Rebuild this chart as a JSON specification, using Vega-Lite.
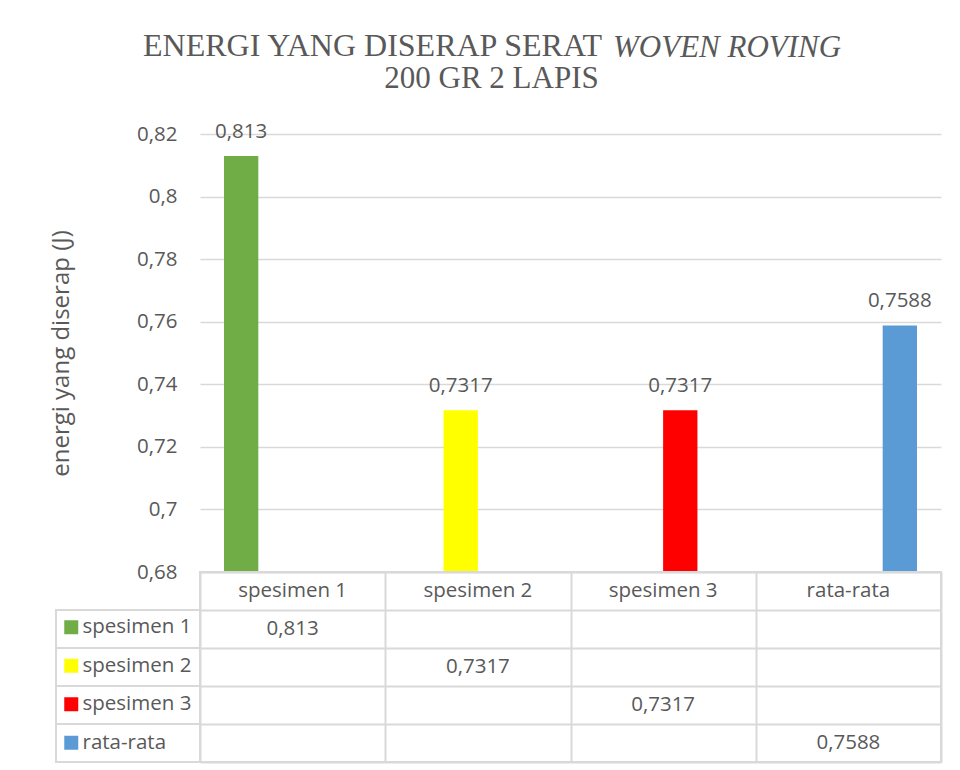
{
  "$schema": "https://vega.github.io/schema/vega-lite/v6.json",
  "background": "white",
  "padding": {"left": 49, "top": 30, "right": 5, "bottom": 5},
  "config": {
    "locale": {"number": {"decimal": ",", "thousands": ".", "grouping": [3], "currency": ["", ""]}},
    "view": {"stroke": null},
    "font": "Open Sans",
    "title": {"font": "Liberation Serif", "fontSize": 31, "fontWeight": "normal", "color": "#595959", "baseline": "alphabetic", "frame": "group"}
  },
  "datasets": {
    "bars": [
      {"category": "spesimen 1", "series": "spesimen 1", "value": 0.813},
      {"category": "spesimen 2", "series": "spesimen 2", "value": 0.7317},
      {"category": "spesimen 3", "series": "spesimen 3", "value": 0.7317},
      {"category": "rata-rata", "series": "rata-rata", "value": 0.7588}
    ]
  },
  "columns": 2,
  "spacing": 0,
  "bounds": "flush",
  "resolve": {"legend": {"color": "independent"}},
  "concat": [
    {
      "width": 144,
      "height": 438,
      "data": {"values": [{}]},
      "mark": {"type": "text"},
      "encoding": {"text": {"value": ""}}
    },
    {
      "width": 741,
      "height": 438,
      "data": {"name": "bars"},
      "title": {"text": "WOVEN ROVING", "fontStyle": "italic", "anchor": "start", "align": "left", "dx": 413, "offset": 58},
      "encoding": {
        "x": {"field": "category", "type": "nominal", "scale": {"domain": ["spesimen 1", "spesimen 2", "spesimen 3", "rata-rata"], "paddingInner": 0.259, "paddingOuter": 0.1296}, "axis": null},
        "xOffset": {"field": "series", "type": "nominal", "scale": {"domain": ["spesimen 1", "spesimen 2", "spesimen 3", "rata-rata"], "paddingInner": 0, "paddingOuter": 0}},
        "y": {
          "field": "value", "type": "quantitative",
          "scale": {"domain": [0.68, 0.82], "zero": false, "nice": false},
          "axis": {
            "values": [0.68, 0.7, 0.72, 0.74, 0.76, 0.78, 0.8, 0.82],
            "format": ".2~f",
            "domain": false, "ticks": false, "tickSize": 0,
            "labelPadding": 23, "labelFont": "Open Sans", "labelFontSize": 20.5, "labelColor": "#595959",
            "grid": true, "gridColor": "#d9d9d9", "gridWidth": 1.5,
            "title": "energi yang diserap (J)", "titleFont": "Open Sans", "titleFontSize": 24, "titleFontWeight": "normal", "titleColor": "#595959", "titlePadding": 63
          }
        }
      },
      "layer": [
        {
          "mark": {"type": "bar"},
          "encoding": {
            "y2": {"datum": 0.68},
            "color": {
              "field": "series", "type": "nominal",
              "scale": {"domain": ["spesimen 1", "spesimen 2", "spesimen 3", "rata-rata"], "range": ["#70ad47", "#ffff00", "#ff0000", "#5b9bd5"]},
              "legend": {
                "orient": "none", "legendX": -139, "legendY": 483, "title": null, "direction": "vertical",
                "symbolType": "square", "symbolSize": 196, "symbolStrokeWidth": 0, "symbolOpacity": 1,
                "labelFont": "Open Sans", "labelFontSize": 20.5, "labelColor": "#595959", "labelOffset": 1,
                "rowPadding": 17.5, "padding": 0
              }
            }
          }
        },
        {
          "mark": {"type": "text", "baseline": "alphabetic", "dy": -18, "fontSize": 20.5, "color": "#595959"},
          "encoding": {"text": {"field": "value", "type": "quantitative", "format": ".4~f"}}
        }
      ]
    },
    {
      "width": 144,
      "height": 190,
      "data": {"name": "bars"},
      "title": {"text": "ENERGI YANG DISERAP SERAT", "fontSize": 32, "anchor": "start", "align": "left", "dx": 87, "offset": 509},
      "mark": {"type": "rect", "fill": "white", "fillOpacity": 0, "stroke": "#d9d9d9", "strokeWidth": 2},
      "encoding": {
        "y": {"field": "series", "type": "nominal", "scale": {"domain": ["header", "spesimen 1", "spesimen 2", "spesimen 3", "rata-rata"], "paddingInner": 0, "paddingOuter": 0}, "axis": null}
      }
    },
    {
      "width": 741,
      "height": 190,
      "view": {"stroke": "#d9d9d9", "strokeWidth": 2},
      "data": {"name": "bars"},
      "title": {"text": "200 GR 2 LAPIS", "anchor": "middle", "dx": -79, "offset": 477},
      "encoding": {
        "x": {
          "field": "category", "type": "nominal",
          "scale": {"domain": ["spesimen 1", "spesimen 2", "spesimen 3", "rata-rata"], "paddingInner": 0, "paddingOuter": 0},
          "axis": {"tickBand": "extent", "grid": true, "gridColor": "#d9d9d9", "gridWidth": 2, "labels": false, "ticks": false, "domain": false, "title": null}
        }
      },
      "layer": [
        {
          "mark": {"type": "text", "fontSize": 20.5, "color": "#595959"},
          "encoding": {
            "y": {"datum": "header", "type": "nominal", "scale": {"domain": ["header", "spesimen 1", "spesimen 2", "spesimen 3", "rata-rata"], "paddingInner": 0, "paddingOuter": 0}, "axis": {"tickBand": "extent", "grid": true, "gridColor": "#d9d9d9", "gridWidth": 2, "labels": false, "ticks": false, "domain": false, "title": null}},
            "text": {"field": "category"}
          }
        },
        {
          "mark": {"type": "text", "fontSize": 20.5, "color": "#595959"},
          "encoding": {
            "y": {"field": "series", "type": "nominal", "scale": {"domain": ["header", "spesimen 1", "spesimen 2", "spesimen 3", "rata-rata"], "paddingInner": 0, "paddingOuter": 0}, "axis": {"tickBand": "extent", "grid": true, "gridColor": "#d9d9d9", "gridWidth": 2, "labels": false, "ticks": false, "domain": false, "title": null}},
            "text": {"field": "value", "type": "quantitative", "format": ".4~f"}
          }
        }
      ]
    }
  ]
}
